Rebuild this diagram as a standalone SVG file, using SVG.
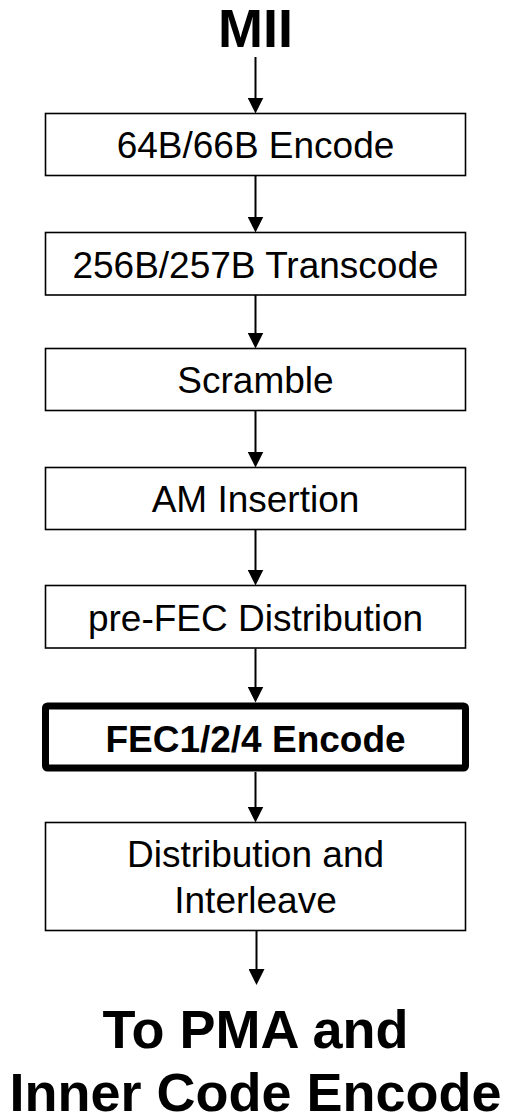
<svg xmlns="http://www.w3.org/2000/svg" width="505" height="1116" viewBox="0 0 505 1116">
<style>
.box{fill:#fff;stroke:#000;stroke-width:1.6}
.bold{fill:#fff;stroke:#000;stroke-width:7}
.t{font-family:"Liberation Sans",Arial,sans-serif;font-size:37px;text-anchor:middle;fill:#000}
.tb{font-family:"Liberation Sans",Arial,sans-serif;font-size:37px;font-weight:bold;text-anchor:middle;fill:#000}
.big{font-family:"Liberation Sans",Arial,sans-serif;font-size:54px;font-weight:bold;text-anchor:middle;fill:#000}
.c{stroke:#000;stroke-width:2;fill:none;marker-end:url(#ah)}
</style>
<defs>
<marker id="ah" markerUnits="userSpaceOnUse" markerWidth="16" markerHeight="16" refX="8" refY="8" orient="auto">
<path d="M0,0 L16,8 L0,16 z" fill="#000"/>
</marker>
</defs>
<g id="connectors">
<line class="c" x1="255.5" y1="57" x2="255.5" y2="105.5"/>
<line class="c" x1="255.5" y1="176" x2="255.5" y2="224.5"/>
<line class="c" x1="255.5" y1="295" x2="255.5" y2="340.5"/>
<line class="c" x1="255.5" y1="411" x2="255.5" y2="459.5"/>
<line class="c" x1="255.5" y1="530" x2="255.5" y2="577.5"/>
<line class="c" x1="255.5" y1="648.5" x2="255.5" y2="694.5"/>
<line class="c" x1="255.5" y1="772" x2="255.5" y2="814.5"/>
<line class="c" x1="256.5" y1="931" x2="256.5" y2="977"/>
</g>
<g id="mii"><text class="big" x="255.5" y="47">MII</text></g>
<g id="n1"><rect class="box" x="45.5" y="113.5" width="420" height="62"/><text class="t" x="255.5" y="158.3">64B/66B Encode</text></g>
<g id="n2"><rect class="box" x="45.5" y="232.5" width="420" height="62.5"/><text class="t" x="255.5" y="278.3">256B/257B Transcode</text></g>
<g id="n3"><rect class="box" x="45.5" y="348.5" width="420" height="62"/><text class="t" x="255.5" y="393.3">Scramble</text></g>
<g id="n4"><rect class="box" x="45.5" y="467.5" width="420" height="62"/><text class="t" x="255.5" y="512.3">AM Insertion</text></g>
<g id="n5"><rect class="box" x="45.5" y="585.5" width="420" height="62.5"/><text class="t" x="255.5" y="630.5">pre-FEC Distribution</text></g>
<g id="n6"><rect class="bold" x="45.5" y="706" width="420" height="62" rx="2"/><text class="tb" x="255.5" y="751.5">FEC1/2/4 Encode</text></g>
<g id="n7"><rect class="box" x="45.5" y="822.5" width="420" height="108"/><text class="t" x="255.5" y="866.7">Distribution and</text><text class="t" x="255.5" y="912.7">Interleave</text></g>
<g id="out"><text class="big" x="255.5" y="1048">To PMA and</text><text class="big" x="255.5" y="1111">Inner Code Encode</text></g>
</svg>
